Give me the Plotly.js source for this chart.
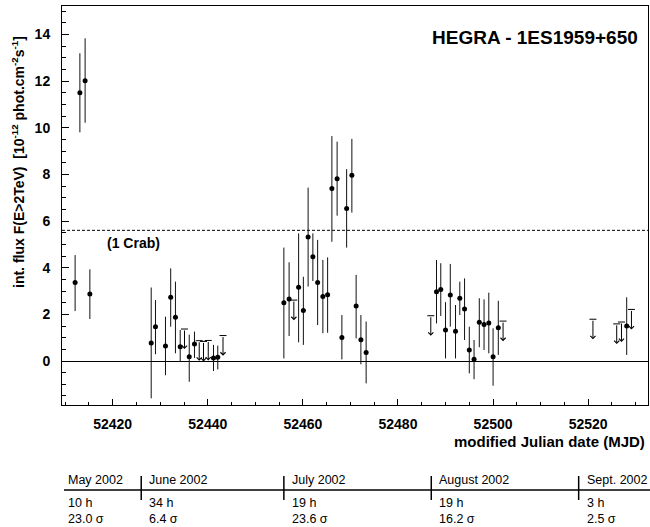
<!DOCTYPE html>
<html><head><meta charset="utf-8">
<script src="https://cdn.plot.ly/plotly-3.0.1.min.js"></script>
<style>html,body{margin:0;padding:0;background:#fff}#chart{width:650px;height:527px}</style>
</head><body><div id="chart"></div>
<script>
// ---- data ----
const mjd = [52412.1,52413.1,52414.2,52415.2,
  52428.1,52429.0,52431.1,52432.2,52433.2,52434.2,52436.1,52437.2,52441.2,52442.1,
  52456.0,52457.1,52459.1,52460.1,52461.1,52462.1,52463.1,52464.2,52465.2,52466.1,52467.2,52468.2,52469.2,52470.3,52471.2,52472.2,52473.3,
  52488.1,52489.0,52490.0,52491.0,52492.1,52493.0,52494.0,52495.0,52496.0,52497.1,52498.1,52499.1,52500.0,52501.1,
  52528.1];
const flux = [3.36,11.50,12.01,2.87,
  0.77,1.47,0.64,2.73,1.87,0.61,0.18,0.73,0.13,0.16,
  2.50,2.66,3.16,2.16,5.31,4.47,3.36,2.76,2.84,7.39,7.81,1.01,6.54,7.96,2.36,0.91,0.36,
  2.97,3.06,1.33,2.83,1.27,2.69,2.23,0.47,0.07,1.66,1.56,1.63,0.18,1.43,
  1.50];
const errPlus = [1.18,1.69,1.82,1.06,
  2.38,1.14,1.26,1.24,1.53,0.72,0.95,0.53,0.56,0.50,
  2.36,1.57,2.31,1.45,2.12,1.00,1.83,1.57,1.60,2.25,1.59,0.96,1.68,1.56,1.33,1.06,1.33,
  1.36,1.13,1.19,1.33,1.13,0.71,1.31,1.00,0.83,1.03,1.08,1.30,1.22,1.15,
  1.23];
const errMinus = [1.22,1.70,1.80,1.07,
  2.37,1.18,1.25,1.26,1.54,0.64,1.07,0.60,0.56,0.52,
  2.39,1.59,2.36,1.47,2.12,1.04,1.82,1.57,1.63,2.28,1.58,0.94,1.68,1.60,1.39,1.05,1.32,
  1.36,1.13,1.22,1.36,1.16,0.72,1.33,1.00,0.85,1.07,1.09,1.30,1.24,1.17,
  1.24];
// upper limits
const ulMjd  = [52435.1,52438.2,52439.1,52440.1,52443.2,52458.1,52486.9,52502.1,52521.0,52526.0,52527.0,52529.1];
const ulFlux = [1.37,0.87,0.84,0.88,1.09,2.61,1.94,1.71,1.79,1.59,1.67,2.21];
const crabLevel = 5.6;
// observation summary table
const months = ['May 2002','June 2002','July 2002','August 2002','Sept. 2002'];
const monthStart = [52395,52426,52456,52487,52518];
const hours = ['10 h','34 h','19 h','19 h','3 h'];
const signif = ['23.0 σ','6.4 σ','23.6 σ','16.2 σ','2.5 σ'];

// ---- layout helpers (pixel -> paper) ----
const PT = 6, PB = 405, PL = 62, PR = 648;
const py = p => (PB - p) / (PB - PT);
const px = p => (p - PL) / (PR - PL);
const ARROW_LEN = 0.86;
const FONT = 'Liberation Sans, Arial, Helvetica, sans-serif';

const traces = [
  {x: mjd, y: flux, type: 'scatter', mode: 'markers',
   marker: {color: 'black', size: 5},
   error_y: {type: 'data', symmetric: false, array: errPlus, arrayminus: errMinus,
             color: '#111', thickness: 1, width: 0},
   cliponaxis: false, hoverinfo: 'x+y'},
  {x: ulMjd, y: ulFlux, type: 'scatter', mode: 'markers',
   marker: {symbol: 'line-ew', size: 5, line: {color: 'black', width: 1}},
   hoverinfo: 'x+y'}
];

const annotations = [];
ulMjd.forEach((m, i) => {
  annotations.push({x: m, y: ulFlux[i] - ARROW_LEN, ax: m, ay: ulFlux[i],
    xref: 'x', yref: 'y', axref: 'x', ayref: 'y', text: '', showarrow: true,
    arrowhead: 4, arrowsize: 1, arrowwidth: 1, arrowcolor: 'black', standoff: 0});
});
annotations.push({xref: 'paper', yref: 'paper', x: px(640), y: py(37), xanchor: 'right', yanchor: 'middle',
  text: 'HEGRA - 1ES1959+650', showarrow: false, font: {family: FONT, size: 19, weight: 'bold', color: 'black'}});
annotations.push({xref: 'x', yref: 'y', x: 52418.4, y: crabLevel - 0.55, xanchor: 'left', yanchor: 'middle',
  text: '(1 Crab)', showarrow: false, font: {family: FONT, size: 14, weight: 'bold', color: 'black'}});
annotations.push({xref: 'paper', yref: 'paper', x: px(18), y: py(162), xanchor: 'center', yanchor: 'middle', textangle: -90,
  text: 'int. flux F(E>2TeV)  [10<sup>-12</sup> phot.cm<sup>-2</sup>s<sup>-1</sup>]', showarrow: false,
  font: {family: FONT, size: 14, weight: 'bold', color: 'black'}});
annotations.push({xref: 'paper', yref: 'paper', x: px(647), y: py(441), xanchor: 'right', yanchor: 'middle',
  text: 'modified Julian date (MJD)', showarrow: false, font: {family: FONT, size: 15, weight: 'bold', color: 'black'}});

const rowY = [480, 503, 519];
const rows = [months, hours, signif];
rows.forEach((row, r) => {
  row.forEach((t, i) => {
    const a = {yref: 'paper', y: py(rowY[r]), yanchor: 'middle', xanchor: 'left', text: t, showarrow: false,
      font: {family: FONT, size: 12.5, color: 'black'}};
    if (i === 0) { a.xref = 'paper'; a.x = px(66); }
    else { a.xref = 'x'; a.x = monthStart[i]; a.xshift = 6; }
    annotations.push(a);
  });
});

const shapes = [
  {type: 'line', xref: 'paper', x0: 0, x1: 1, yref: 'y', y0: crabLevel, y1: crabLevel,
   line: {color: 'black', width: 1, dash: '3px,2px'}},
  {type: 'line', xref: 'paper', x0: px(64), x1: px(650), yref: 'paper', y0: py(490), y1: py(490),
   line: {color: 'black', width: 1.5}}
];
monthStart.slice(1).forEach(m => {
  shapes.push({type: 'line', xref: 'x', x0: m, x1: m, yref: 'paper', y0: py(476), y1: py(500),
    line: {color: 'black', width: 1.5}});
});

const layout = {
  width: 650, height: 527,
  margin: {l: PL, r: 650 - PR, t: PT, b: 527 - PB},
  paper_bgcolor: 'white', plot_bgcolor: 'white', showlegend: false,
  font: {family: FONT, color: 'black'},
  xaxis: {range: [52409.34, 52532.58], dtick: 20, tickformat: 'd',
    ticks: 'inside', ticklen: 6, tickwidth: 1, tickcolor: 'black',
    minor: {dtick: 5, ticks: 'inside', ticklen: 3, tickwidth: 1, tickcolor: 'black', showgrid: false},
    showline: true, mirror: true, linecolor: 'black', linewidth: 1,
    showgrid: false, zeroline: false, ticklabelstandoff: 6,
    tickfont: {family: FONT, size: 14, weight: 'bold', color: 'black'}},
  yaxis: {range: [-1.886, 15.215], dtick: 2, tick0: 0,
    ticks: 'inside', ticklen: 7, tickwidth: 1, tickcolor: 'black',
    minor: {dtick: 0.5, ticks: 'inside', ticklen: 3.5, tickwidth: 1, tickcolor: 'black', showgrid: false},
    showline: true, mirror: true, linecolor: 'black', linewidth: 1,
    showgrid: false, zeroline: true, zerolinecolor: 'black', zerolinewidth: 1, ticklabelstandoff: 8,
    tickfont: {family: FONT, size: 14, weight: 'bold', color: 'black'}},
  annotations: annotations,
  shapes: shapes
};

Plotly.newPlot('chart', traces, layout, {displayModeBar: false, staticPlot: true});
</script>
</body></html>
